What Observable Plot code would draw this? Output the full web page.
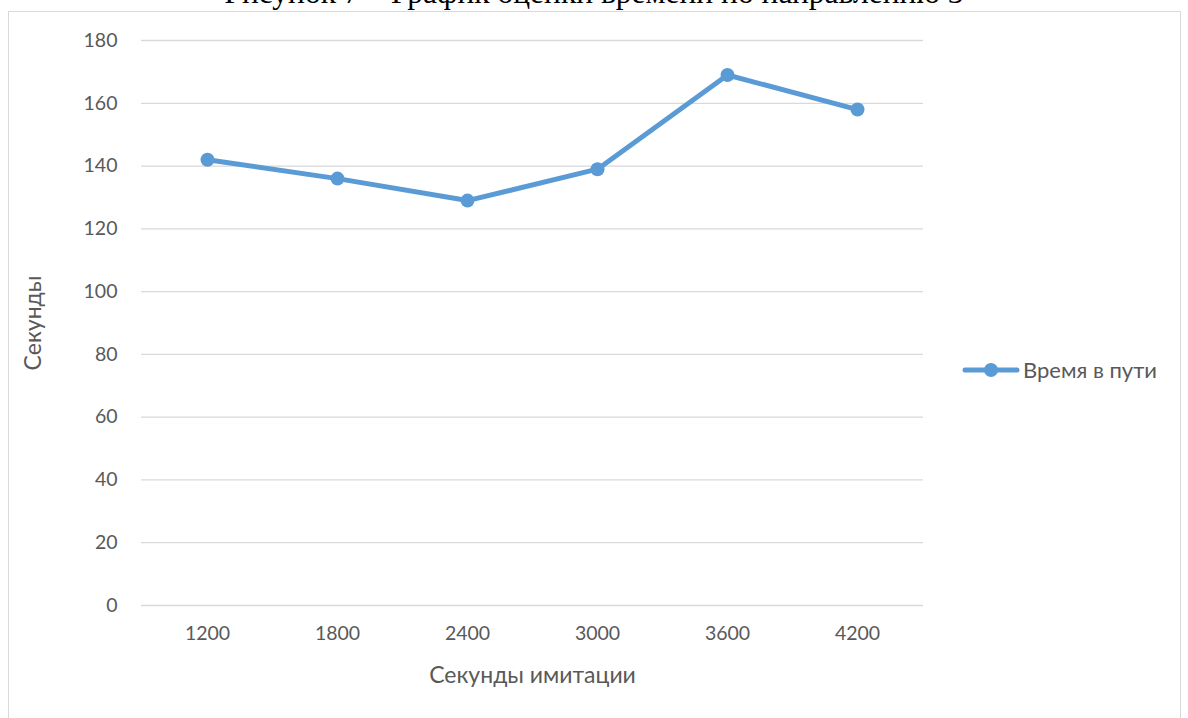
<!DOCTYPE html>
<html>
<head>
<meta charset="utf-8">
<script src="https://cdn.jsdelivr.net/npm/d3@7"></script>
<script src="https://cdn.jsdelivr.net/npm/@observablehq/plot@0.6"></script>
<style>
  html, body { margin: 0; padding: 0; background: #fff; overflow: hidden; }
  #wrap { position: relative; width: 1188px; height: 718px; overflow: hidden; }
  #title { position: absolute; left: 0; width: 1188px; top: -23px; text-align: center;
    font-family: "Liberation Serif", "DejaVu Serif", serif; font-size: 31.5px; line-height: 31.5px; color: #000; white-space: nowrap; }
  #frame { position: absolute; left: 8px; top: 11px; width: 1173px; height: 720px; border: 1.5px solid #d9d9d9; box-sizing: border-box; }
  #chart { position: absolute; left: 0; top: 0; }
  #legend { position: absolute; left: 962px; top: 356px; display: flex; align-items: center;
    font-family: Lato, "Open Sans", sans-serif; font-size: 22px; color: #595959; }
</style>
</head>
<body>
<div id="wrap">
  <div id="title">Рисунок 7 – График оценки времени по направлению 3</div>
  <div id="frame"></div>
  <div id="chart"></div>
  <div id="legend">
    <svg width="58" height="22"><line x1="3" y1="11" x2="55" y2="11" stroke="#5B9BD5" stroke-width="5" stroke-linecap="round"/><circle cx="29" cy="11" r="7" fill="#5B9BD5"/></svg>
    <span style="margin-left:3px">Время в пути</span>
  </div>
</div>
<script>
const categories = ["1200", "1800", "2400", "3000", "3600", "4200"];
const values = [142, 136, 129, 139, 169, 158];
const yTicks = [0, 20, 40, 60, 80, 100, 120, 140, 160, 180];
const seriesName = "Время в пути";
const xTitle = "Секунды имитации";
const yTitle = "Секунды";

const data = categories.map((c, i) => ({x: c, y: values[i], s: seriesName}));
const color = "#5B9BD5";
const font = 'Lato, "Open Sans", sans-serif';

const chart = Plot.plot({
  width: 1188,
  height: 718,
  marginLeft: 141,
  marginRight: 265,
  marginTop: 40,
  marginBottom: 113,
  style: {fontFamily: font, fontSize: "19.5px", color: "#595959", background: "transparent", overflow: "visible"},
  x: {type: "point", domain: categories, padding: 0.5},
  y: {domain: [0, 180]},
  marks: [
    Plot.ruleY(yTicks, {stroke: "#d9d9d9", strokeWidth: 1.3, strokeOpacity: 1}),
    Plot.axisY({ticks: yTicks, tickSize: 0, tickPadding: 24, label: null, fontSize: 19.5, fill: "#595959"}),
    Plot.axisX({tickSize: 0, tickPadding: 21, label: null, fontSize: 19.5, fill: "#595959"}),
    Plot.text([xTitle], {frameAnchor: "bottom", dy: 70, lineAnchor: "middle", text: d => d, fontSize: 23, fill: "#595959"}),
    Plot.text([yTitle], {frameAnchor: "left", dx: -108, rotate: -90, textAnchor: "middle", text: d => d, fontSize: 23, fill: "#595959"}),
    Plot.line(data, {x: "x", y: "y", stroke: color, strokeWidth: 5, strokeLinejoin: "round", strokeLinecap: "round"}),
    Plot.dot(data, {x: "x", y: "y", r: 7, fill: color, stroke: null})
  ]
});
document.getElementById("chart").appendChild(chart);
</script>
</body>
</html>
